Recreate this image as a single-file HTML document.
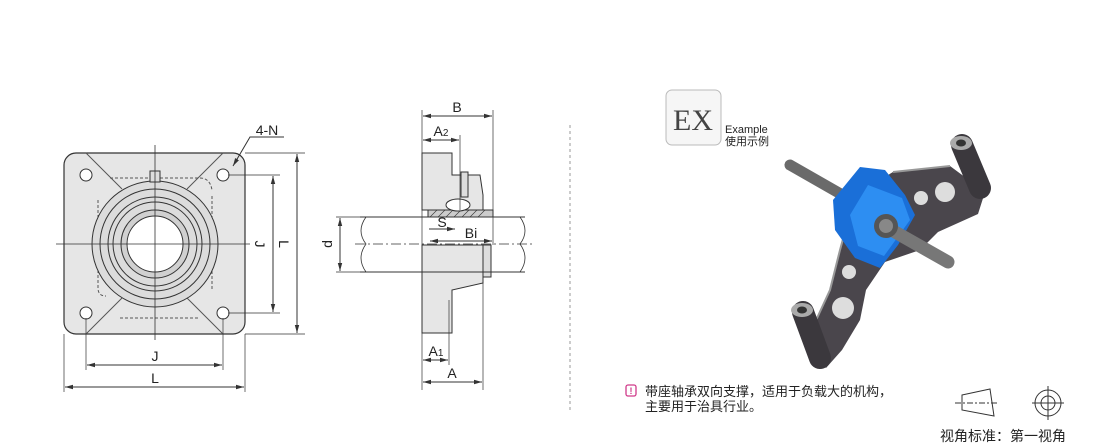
<!DOCTYPE html>
<html><head><meta charset="utf-8"><style>
html,body{margin:0;padding:0;background:#fff;}
svg{display:block;font-family:"Liberation Sans","Noto Sans CJK SC",sans-serif;}
</style></head><body>
<svg width="1110" height="447" viewBox="0 0 1110 447" xmlns="http://www.w3.org/2000/svg">
<defs>
<marker id="ar" markerWidth="8" markerHeight="6" refX="8" refY="3" orient="auto-start-reverse" markerUnits="userSpaceOnUse"><path d="M0,0.8 L8,3 L0,5.2z" fill="#333"/></marker>
</defs>
<g stroke="#333" stroke-width="1" fill="none">
<rect x="64" y="153" width="181" height="181" rx="12" fill="#e6e6e6" stroke="#333" stroke-width="1.2"/>
<path d="M86,153 L122,189 M223,153 L187,189 M86,334 L122,298 M223,334 L187,298" stroke="#555"/>
<path d="M110,178 L200,178 Q210,178 212,190 M98,200 L98,288 Q98,296 106,296 M120,318 L200,318 M212,196 L212,290" stroke="#555" stroke-dasharray="3,2"/>
<circle cx="155" cy="244" r="63" fill="#dcdcdc"/>
<circle cx="155" cy="244" r="55"/>
<circle cx="155" cy="244" r="47"/>
<circle cx="155" cy="244" r="42"/>
<circle cx="155" cy="244" r="34" fill="#d0d0d0"/>
<circle cx="155" cy="244" r="28" fill="#fff"/>
<rect x="150" y="171" width="10" height="11" fill="#ddd"/>
<circle cx="86" cy="175" r="6" fill="#fff"/><circle cx="223" cy="175" r="6" fill="#fff"/>
<circle cx="86" cy="313" r="6" fill="#fff"/><circle cx="223" cy="313" r="6" fill="#fff"/>
<path d="M56,244 L250,244 M155,145 L155,340" stroke="#333" stroke-width="0.8"/>
<path d="M228,175 L280,175 M228,313 L280,313 M245,153 L305,153 M245,334 L305,334" stroke-width="0.7"/>
<path d="M273,176 L273,312" marker-start="url(#ar)" marker-end="url(#ar)"/>
<path d="M297,154 L297,333" marker-start="url(#ar)" marker-end="url(#ar)"/>
<path d="M86,318 L86,370 M223,318 L223,370 M64,334 L64,392 M245,334 L245,392" stroke-width="0.7"/>
<path d="M87,365 L222,365" marker-start="url(#ar)" marker-end="url(#ar)"/>
<path d="M65,387 L244,387" marker-start="url(#ar)" marker-end="url(#ar)"/>
<path d="M284,137 L250,137 L233,166" marker-end="url(#ar)"/>
<path d="M422,153 L452,153 L452,175 L480,175 L483,195 L483,210 L422,210 Z" fill="#e6e6e6"/>
<path d="M422,245 L483,245 L483,283 L452,290 L452,333 L422,333 Z" fill="#e6e6e6"/>
<rect x="483" y="245" width="8" height="32" fill="#ddd"/>
<rect x="428" y="210" width="65" height="7" fill="#ccc"/>
<path d="M430,217 L437,210 M438,217 L445,210 M446,217 L453,210 M454,217 L461,210 M462,217 L469,210 M470,217 L477,210 M478,217 L485,210" stroke-width="0.6"/>
<ellipse cx="458" cy="205" rx="12" ry="6" fill="#fff"/>
<rect x="461" y="172" width="7" height="25" fill="#ddd"/>
<path d="M360,217 L525,217 M360,272 L525,272" />
<path d="M366,217 Q356,231 366,244 Q356,258 366,272 M520,217 Q530,231 520,244 Q530,258 520,272" stroke-width="0.8"/>
<path d="M355,244 L535,244" stroke-width="0.8" stroke-dasharray="10,3,2,3"/>
<path d="M422,110 L422,390 M493,110 L493,245 M460,135 L460,210 M483,283 L483,390 M449,300 L449,365" stroke-width="0.7"/>
<path d="M423,116 L492,116" marker-start="url(#ar)" marker-end="url(#ar)"/>
<path d="M423,140 L459,140" marker-start="url(#ar)" marker-end="url(#ar)"/>
<path d="M429,229 L455,229" marker-end="url(#ar)"/>
<path d="M430,241 L492,241" marker-start="url(#ar)" marker-end="url(#ar)"/>
<path d="M423,360 L448,360" marker-start="url(#ar)" marker-end="url(#ar)"/>
<path d="M423,382 L482,382" marker-start="url(#ar)" marker-end="url(#ar)"/>
<path d="M336,217 L365,217 M336,272 L365,272" stroke-width="0.7"/>
<path d="M340,218 L340,271" marker-start="url(#ar)" marker-end="url(#ar)"/>
<path d="M570,125 L570,410" stroke="#999" stroke-dasharray="3,3"/>
</g>
<g font-size="14" fill="#222" text-anchor="middle">
<text x="267" y="135">4-N</text>
<text x="155" y="361">J</text>
<text x="155" y="383">L</text>
<text x="260" y="244" transform="rotate(90 260 244) translate(0 5)">J</text>
<text x="284" y="244" transform="rotate(90 284 244) translate(0 5)">L</text>
<text x="327" y="244" transform="rotate(-90 327 244) translate(0 5)">d</text>
<text x="457" y="112">B</text>
<text x="441" y="136">A<tspan font-size="10">2</tspan></text>
<text x="442" y="227">S</text>
<text x="471" y="238">Bi</text>
<text x="436" y="356">A<tspan font-size="10">1</tspan></text>
<text x="452" y="378">A</text>
</g>
<rect x="666" y="90" width="55" height="55" rx="6" fill="#f6f6f6" stroke="#bbb"/>
<text x="693" y="130" font-family="Liberation Serif,serif" font-size="30" fill="#444" text-anchor="middle">EX</text>
<text x="725" y="133" font-size="11" fill="#222">Example</text>
<text x="725" y="145" font-size="11" fill="#222">使用示例</text>
<g>
<path d="M790,165 L860,205" stroke="#6a6a6a" stroke-width="11" stroke-linecap="round"/>
<path d="M855,195 L893,172 L950,166 L985,192 L978,214 L938,232 L920,250 L885,262 L866,290 L860,320 L842,350 L826,368 L806,342 L830,290 L840,250 Z" fill="#4a464c"/>
<path d="M893,172 L950,166" stroke="#999" stroke-width="2"/>
<path d="M855,195 L840,250 L830,290 L806,342" stroke="#999" stroke-width="2" fill="none"/>
<path d="M962,145 L980,188" stroke="#3b383d" stroke-width="22" stroke-linecap="round"/>
<ellipse cx="961" cy="143" rx="11" ry="7" fill="#aaa"/><ellipse cx="961" cy="143" rx="5" ry="3.5" fill="#333"/>
<path d="M803,312 L820,358" stroke="#3b383d" stroke-width="22" stroke-linecap="round"/>
<ellipse cx="802" cy="310" rx="11" ry="7" fill="#aaa"/><ellipse cx="802" cy="310" rx="5" ry="3.5" fill="#333"/>
<circle cx="921" cy="198" r="7" fill="#ddd"/><circle cx="945" cy="192" r="10" fill="#ddd"/>
<circle cx="849" cy="272" r="7" fill="#ddd"/><circle cx="843" cy="308" r="11" fill="#ddd"/>
<path d="M860,167 L885,170 L905,195 L915,215 L898,245 L880,268 L855,258 L835,230 L833,200 Z" fill="#1a6fd8"/>
<path d="M868,185 L902,198 L910,220 L884,256 L858,246 L850,215 Z" fill="#2d8ef2"/>
<path d="M888,228 L948,262" stroke="#777" stroke-width="13" stroke-linecap="round"/>
<circle cx="886" cy="226" r="12" fill="#555"/><circle cx="886" cy="226" r="7" fill="#888"/>
</g>
<rect x="626" y="385" width="10" height="11" rx="2" fill="none" stroke="#d03a8a" stroke-width="1.3"/>
<text x="631" y="394" font-size="9" font-weight="bold" fill="#d03a8a" text-anchor="middle">!</text>
<text x="645" y="396" font-size="13" fill="#222">带座轴承双向支撑，适用于负载大的机构，</text>
<text x="645" y="411" font-size="13" fill="#222">主要用于治具行业。</text>
<g stroke="#333" fill="none">
<path d="M962,395 L990,389 L994,416 L962,410 Z"/>
<path d="M955,403 L998,403" stroke-dasharray="6,2,2,2"/>
<circle cx="1048" cy="403" r="13"/><circle cx="1048" cy="403" r="7"/>
<path d="M1032,403 L1064,403 M1048,386 L1048,420"/>
</g>
<text x="940" y="441" font-size="14" fill="#222">视角标准：第一视角</text>
</svg>
</body></html>
